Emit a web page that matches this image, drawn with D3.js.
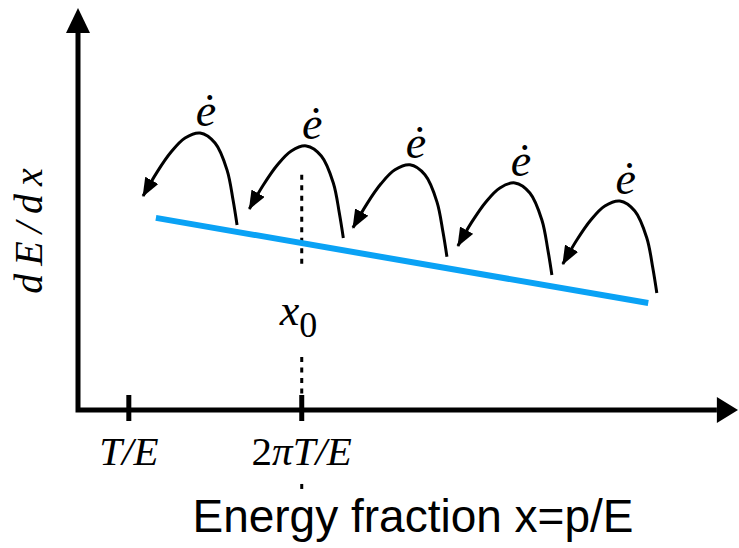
<!DOCTYPE html>
<html lang="en">
<head>
    <meta charset="UTF-8">
    <title>Energy loss sketch</title>
    <script src="https://d3js.org/d3.v7.min.js"></script>
    <style>
        body {
            margin: 0;
            background: #fff;
        }
        .math {
            font-family: "Liberation Serif", "Times New Roman", serif;
            font-style: italic;
            fill: #000;
        }
        .upright {
            font-style: normal;
        }
        .xlabel {
            font-family: Helvetica, Arial, "Liberation Sans", sans-serif;
            fill: #000;
        }
    </style>
</head>
<body>
    <div id="chart"></div>
    <script>
        const width = 739;
        const height = 548;

        // axis ticks (energy fraction, schematic units)
        const tickValues = [0.077, 0.339];
        const tickLabels = [["", "T/E"], ["2", "π", "T/E"]];

        // blue dE/dx line, two end points
        const lineX = [0.118, 0.864];
        const lineY = [0.478, 0.266];

        // right-hand foot of each emission arrow
        const arrowX = [0.241, 0.402, 0.559, 0.718, 0.877];
        const arrowY = [0.460, 0.428, 0.381, 0.336, 0.291];

        // dashed guide at x0, visible pieces
        const guideX = 0.339;
        const guideSegments = [[0.585, 0.358], [0.132, 0.040], [-0.184, -0.199]];

        const x = d3.scaleLinear().domain([0, 1]).range([78, 738]);
        const y = d3.scaleLinear().domain([0, 1]).range([410, 8]);

        // hook shape of the arrows, pixel offsets from the foot
        const hook = [[0, 0], [-4, -25], [-10, -55], [-22, -82], [-37, -92],
                      [-52, -87], [-66, -73], [-80, -53], [-94, -29]];

        const svg = d3.select("#chart").append("svg")
            .attr("width", width)
            .attr("height", height);

        const defs = svg.append("defs");
        defs.append("marker")
            .attr("id", "head")
            .attr("markerUnits", "userSpaceOnUse")
            .attr("viewBox", "0 0 19 15")
            .attr("refX", 18)
            .attr("refY", 7.5)
            .attr("markerWidth", 19)
            .attr("markerHeight", 15)
            .attr("orient", "auto")
            .append("path")
            .attr("d", "M0,0 L19,7.5 L0,15 Z")
            .attr("fill", "#000");

        // axes
        const x0 = x(0), y0 = y(0);
        svg.append("path")
            .attr("d", `M${x0},${y(0.94)} L${x0},${y0} L${x(0.968)},${y0}`)
            .attr("fill", "none")
            .attr("stroke", "#000")
            .attr("stroke-width", 5)
            .attr("stroke-linejoin", "miter");
        svg.append("path")
            .attr("d", `M${x0},${y(1)} L${x0 - 12},${y(0.938)} L${x0 + 12},${y(0.938)} Z`);
        svg.append("path")
            .attr("d", `M${x(1)},${y0} L${x(0.968)},${y0 - 13} L${x(0.968)},${y0 + 13} Z`);

        // ticks
        svg.selectAll(".tick")
            .data(tickValues)
            .enter().append("line")
            .attr("x1", d => x(d)).attr("x2", d => x(d))
            .attr("y1", y0 - 15).attr("y2", y0 + 11)
            .attr("stroke", "#000")
            .attr("stroke-width", 5);

        const tl = svg.selectAll(".ticklabel")
            .data(tickLabels)
            .enter().append("text")
            .attr("class", "math")
            .attr("x", (d, i) => x(tickValues[i]))
            .attr("y", 465)
            .attr("text-anchor", "middle")
            .attr("font-size", 41);
        tl.each(function (parts) {
            const t = d3.select(this);
            if (parts.length === 2) {
                t.append("tspan").text(parts[1]);
            } else {
                t.append("tspan").attr("class", "upright").text(parts[0]);
                t.append("tspan").text(parts[1]);
                t.append("tspan").text(parts[2]);
            }
        });

        // dashed guide
        svg.selectAll(".guide")
            .data(guideSegments)
            .enter().append("line")
            .attr("x1", x(guideX)).attr("x2", x(guideX))
            .attr("y1", d => y(d[0])).attr("y2", d => y(d[1]))
            .attr("stroke", "#000")
            .attr("stroke-width", 3)
            .attr("stroke-dasharray", "5,5.5");

        // blue line
        svg.append("line")
            .attr("x1", x(lineX[0])).attr("y1", y(lineY[0]))
            .attr("x2", x(lineX[1])).attr("y2", y(lineY[1]))
            .attr("stroke", "#0aa2f5")
            .attr("stroke-width", 6);

        // emission arrows
        const curve = d3.line().curve(d3.curveCatmullRom);
        const arrows = arrowX.map((d, i) => ({ fx: x(d), fy: y(arrowY[i]) }));

        svg.selectAll(".hook")
            .data(arrows)
            .enter().append("path")
            .attr("d", d => curve(hook.map(p => [d.fx + p[0], d.fy + p[1]])))
            .attr("fill", "none")
            .attr("stroke", "#000")
            .attr("stroke-width", 3)
            .attr("marker-end", "url(#head)");

        svg.selectAll(".edot")
            .data(arrows)
            .enter().append("text")
            .attr("class", "math")
            .attr("x", d => d.fx - 31)
            .attr("y", d => d.fy - 99)
            .attr("text-anchor", "middle")
            .attr("font-size", 46)
            .text("ė");

        // x0 label
        const xl = svg.append("text")
            .attr("class", "math")
            .attr("x", x(guideX) - 22)
            .attr("y", 325)
            .attr("font-size", 44);
        xl.append("tspan").text("x");
        xl.append("tspan").attr("class", "upright").attr("font-size", 36).attr("dy", 12).text("0");

        // axis titles
        svg.append("text")
            .attr("class", "math")
            .attr("transform", "translate(42,227) rotate(-90)")
            .attr("text-anchor", "middle")
            .attr("font-size", 40)
            .attr("letter-spacing", 8)
            .text("dE/dx");

        svg.append("text")
            .attr("class", "xlabel")
            .attr("x", 413)
            .attr("y", 532)
            .attr("text-anchor", "middle")
            .attr("font-size", 46)
            .text("Energy fraction x=p/E");
    </script>
</body>
</html>
